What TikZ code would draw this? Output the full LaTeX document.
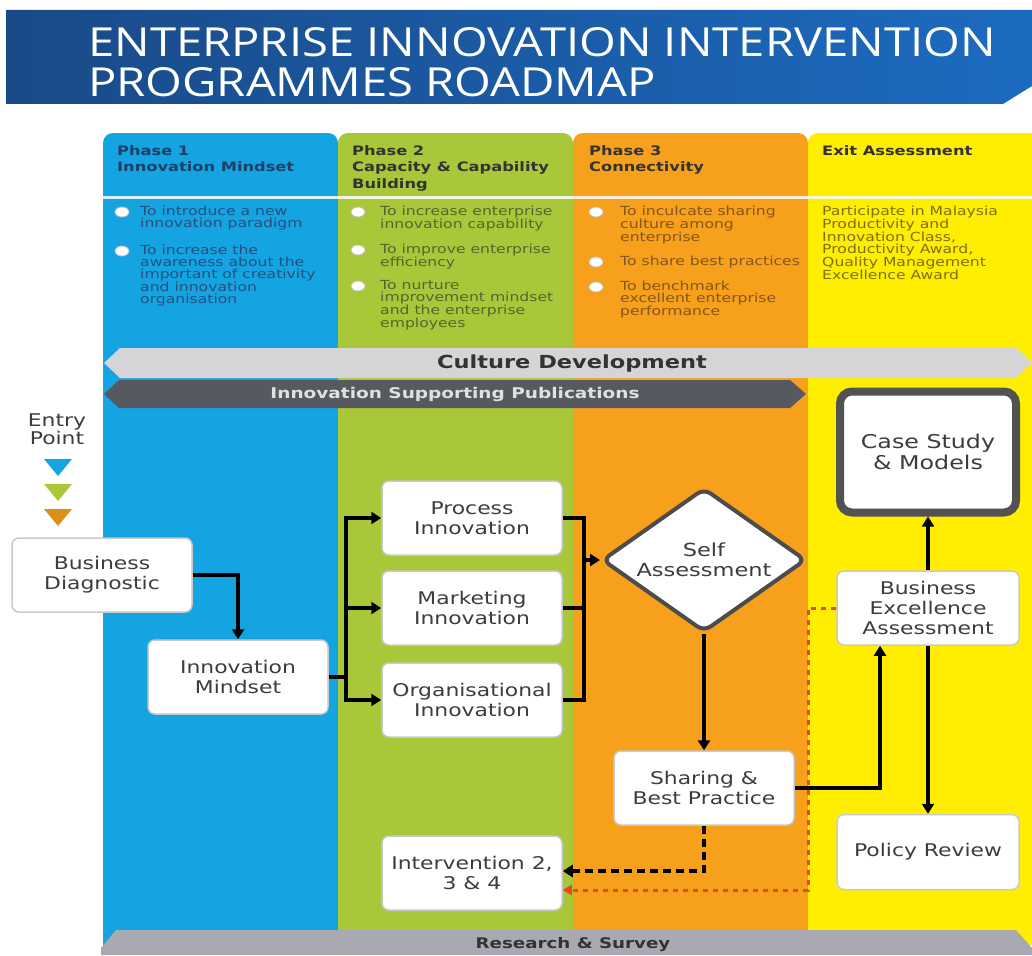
\documentclass[tikz,border=0pt]{standalone}
\usepackage{fontspec}
\usepackage{graphicx}
\setmainfont{DejaVu Sans}[FakeStretch=1.25]
\newfontfamily\titlefont{Open Sans}
\usetikzlibrary{shapes.geometric,arrows.meta,calc}
\definecolor{colblue}{HTML}{14A4E2}
\definecolor{colgreen}{HTML}{A8C83A}
\definecolor{colorange}{HTML}{F6A01C}
\definecolor{colyellow}{HTML}{FFEE00}
\definecolor{bannerA}{HTML}{1A4A88}
\definecolor{bannerB}{HTML}{1C6BC0}
\definecolor{boxtext}{HTML}{3C3C3C}
\definecolor{boxedge}{HTML}{C9C9C9}
\definecolor{lightbar}{HTML}{D5D5D7}
\definecolor{darkbar}{HTML}{565A60}
\definecolor{midbar}{HTML}{A9A9B1}
\definecolor{redline}{HTML}{E8461C}
\definecolor{txtblue}{HTML}{24507E}
\definecolor{txtgreen}{HTML}{55652E}
\definecolor{txtorange}{HTML}{85561A}
\definecolor{txtyellow}{HTML}{7D6E12}
\tikzset{
  box/.style={draw=boxedge, line width=1.5pt, fill=white, rounded corners=7pt,
    minimum width=180pt, minimum height=74pt, align=center, text=boxtext,
    font=\fontsize{17.5}{20}\selectfont, inner sep=2pt},
  conn/.style={line width=3.5pt, draw=black, -{Triangle[length=10pt,width=12pt]}},
  plain/.style={line width=3.5pt, draw=black},
  dconn/.style={line width=3.5pt, draw=black, dash pattern=on 8pt off 5pt, -{Triangle[length=10pt,width=12pt]}},
  rconn/.style={line width=3pt, draw=redline, dash pattern=on 5pt off 5pt, -{Triangle[length=9pt,width=10pt]}},
  head/.style={anchor=north west, align=left, font=\bfseries\fontsize{13}{16.5}\selectfont, inner sep=0pt},
  btxt/.style={anchor=north west, align=left, font=\fontsize{12.5}{11.8}\selectfont, inner sep=0pt},
  bullet/.style={ellipse, draw=black!25, line width=0.8pt, fill=white, minimum width=14pt, minimum height=10pt, inner sep=0pt},
}
\begin{document}
\begin{tikzpicture}[x=1pt,y=-1pt]
\useasboundingbox (0,0) rectangle (1032,955);
\fill[white] (0,0) rectangle (1032,955);
% banner
\shade[left color=bannerA, right color=bannerB] (6,10) -- (1032,10) -- (1032,86) -- (1003,104) -- (6,104) -- cycle;
\node[anchor=base west, text=white, font=\titlefont\fontsize{40}{40}\selectfont, inner sep=0pt] (t1) at (88,57) {\scalebox{1.18}[1]{ENTERPRISE INNOVATION INTERVENTION}};
\node[anchor=base west, text=white, font=\titlefont\fontsize{40}{40}\selectfont, inner sep=0pt] (t2) at (88,96) {\scalebox{1.18}[1]{PROGRAMMES ROADMAP}};
% columns
\fill[colblue, rounded corners=10pt] (103,133) rectangle (338,945);
\fill[colgreen, rounded corners=10pt] (338,133) rectangle (573,945);
\fill[colorange, rounded corners=10pt] (573,133) rectangle (808,945);
\fill[colyellow, rounded corners=10pt] (808,133) rectangle (1045,945);
\fill[colblue] (103,160) rectangle (338,945);
\fill[colgreen] (338,160) rectangle (573,945);
\fill[colorange] (573,160) rectangle (808,945);
\fill[colyellow] (808,160) rectangle (1032,945);
\draw[white, line width=3pt, opacity=0.85] (103,197) -- (1032,197);
% headers
\node[head, text=txtblue!80!black] (h1) at (117,145) {Phase 1\\Innovation Mindset};
\node[head, text=black!80] (h2) at (352,145) {Phase 2\\Capacity \& Capability\\Building};
\node[head, text=black!80] (h3) at (589,145) {Phase 3\\Connectivity};
\node[head, text=black!80] (h4) at (822,145) {Exit Assessment};
% bullets col 1
\node[bullet] (b11) at (122,212) {};
\node[btxt, text=txtblue] (t11) at (140,206) {To introduce a new\\innovation paradigm};
\node[bullet] (b12) at (122,251) {};
\node[btxt, text=txtblue] (t12) at (140,245) {To increase the\\awareness about the\\important of creativity\\and innovation\\organisation};
% bullets col 2
\node[bullet] (b21) at (358,212) {};
\node[btxt, text=txtgreen] (t21) at (380,206) {To increase enterprise\\innovation capability};
\node[bullet] (b22) at (358,250) {};
\node[btxt, text=txtgreen] (t22) at (380,244) {To improve enterprise\\efficiency};
\node[bullet] (b23) at (358,286) {};
\node[btxt, text=txtgreen] (t23) at (380,280) {To nurture\\improvement mindset\\and the enterprise\\employees};
% bullets col 3
\node[bullet] (b31) at (596,212) {};
\node[btxt, text=txtorange] (t31) at (620,206) {To inculcate sharing\\culture among\\enterprise};
\node[bullet] (b32) at (596,262) {};
\node[btxt, text=txtorange] (t32) at (620,256) {To share best practices};
\node[bullet] (b33) at (596,287) {};
\node[btxt, text=txtorange] (t33) at (620,281) {To benchmark\\excellent enterprise\\performance};
% col 4
\node[btxt, text=txtyellow] (t41) at (822,206) {Participate in Malaysia\\Productivity and\\Innovation Class,\\Productivity Award,\\Quality Management\\Excellence Award};
% bars
\fill[lightbar] (104,363) -- (120,348) -- (1016,348) -- (1032,363) -- (1016,378) -- (120,378) -- cycle;
\node[font=\bfseries\fontsize{18}{18}\selectfont, text=black!80] (cult) at (572,364) {Culture Development};
\fill[darkbar] (104,394) -- (119,380) -- (790,380) -- (806,394) -- (790,408) -- (119,408) -- cycle;
\node[font=\bfseries\fontsize{14.8}{14.8}\selectfont, text=white!88!black] (pub) at (455,394) {Innovation Supporting Publications};
\fill[midbar] (101,948) -- (116,930) -- (1016,930) -- (1032,948) -- (1032,955) -- (101,955) -- cycle;
\node[font=\bfseries\fontsize{14.6}{14.6}\selectfont, text=black!80] (rs) at (573,945) {Research \& Survey};
% entry point
\node[align=center, text=boxtext, font=\fontsize{17.5}{18.5}\selectfont] (ep) at (57,429) {Entry\\Point};
\fill[colblue] (44,459) -- (72,459) -- (58,476) -- cycle;
\fill[colgreen] (44,484) -- (72,484) -- (58,501) -- cycle;
\fill[colorange!90!black] (44,509) -- (72,509) -- (58,526) -- cycle;
% boxes
\node[box] (bd) at (102,575) {Business\\Diagnostic};
\node[box] (im) at (238,677) {Innovation\\Mindset};
\node[box] (pi) at (472,518) {Process\\Innovation};
\node[box] (mi) at (472,608) {Marketing\\Innovation};
\node[box] (oi) at (472,700) {Organisational\\Innovation};
\node[diamond, draw=black!70, line width=4pt, fill=white, rounded corners=8pt, minimum width=204pt, minimum height=144pt, inner sep=-40pt, align=center, text=boxtext, font=\fontsize{18}{20}\selectfont] (sa) at (704,560) {Self\\Assessment};
\node[box, draw=black!68, line width=8pt, minimum width=176pt, minimum height=121pt, rounded corners=12pt, font=\fontsize{19}{21}\selectfont] (cs) at (928,452) {Case Study\\\& Models};
\node[box, minimum width=182pt] (bea) at (928,608) {Business\\Excellence\\Assessment};
\node[box] (sh) at (704,788) {Sharing \&\\Best Practice};
\node[box] (iv) at (472,873) {Intervention 2,\\3 \& 4};
\node[box, minimum width=182pt, minimum height=75pt] (pr) at (928,852) {Policy Review};
% connectors
\draw[conn] (bd.east) -| (im.north);
\coordinate (jl) at (346,677);
\draw[plain] (im.east) -- (jl);
\draw[conn] (jl) |- (pi.west);
\draw[conn] (jl) |- (oi.west);
\draw[conn] (jl |- mi.west) -- (mi.west);
\coordinate (jr) at (584,560);
\draw[plain] (pi.east) -| (jr);
\draw[plain] (oi.east) -| (jr);
\draw[plain] (mi.east) -- (jr |- mi.east);
\draw[conn] (jr) -- (sa.west);
\draw[conn] (sa.south) -- (sh.north);
\draw[conn] (sh.east) -| ([xshift=-48pt]bea.south);
\draw[conn] (bea.north) -- (cs.south);
\draw[conn] (bea.south) -- (pr.north);
\draw[dconn] (sh.south) |- ([yshift=2pt]iv.east);
\coordinate (rc) at (808,890);
\draw[rconn] (bea.west) -| (rc) -- (rc -| iv.east);
\end{tikzpicture}
\end{document}
